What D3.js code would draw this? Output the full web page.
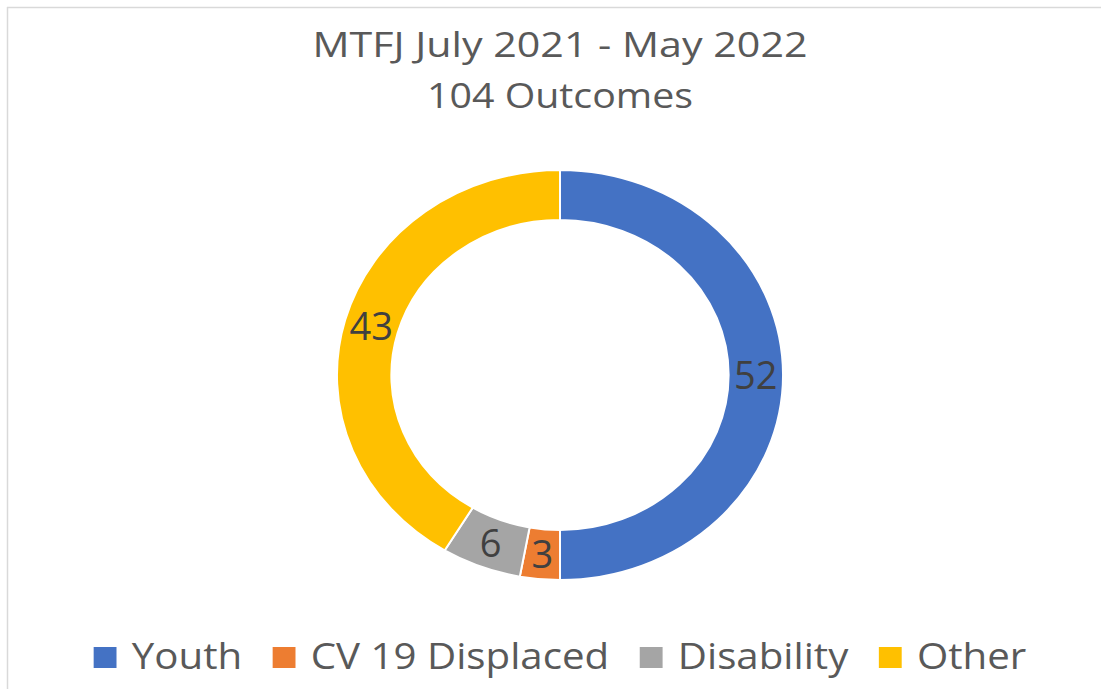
<!DOCTYPE html>
<html>
<head>
<meta charset="utf-8">
<script src="https://cdn.jsdelivr.net/npm/d3@7"></script>
<style>
  body { margin: 0; background: #fff; }
  text { font-family: "Open Sans", sans-serif; }
</style>
</head>
<body>
<div id="chart"></div>
<script>
// data
let categories = ["Youth", "CV 19 Displaced", "Disability", "Other"]
let outcomes = [52, 3, 6, 43]
let sliceColors = ["#4472C4", "#ED7D31", "#A5A5A5", "#FFC000"]
let titleLines = ["MTFJ July 2021 - May 2022", "104 Outcomes"]

let width = 1101, height = 689
let sx = 1.088   // the picture is a little wider than tall

let svg = d3.select("#chart").append("svg")
    .attr("width", width)
    .attr("height", height)

// frame (only top and left edge are in view)
svg.append("line").attr("x1", 7.5).attr("x2", 7.5).attr("y1", 7).attr("y2", height)
    .attr("stroke", "#d9d9d9").attr("stroke-width", 1.5)
svg.append("line").attr("x1", 7).attr("x2", width).attr("y1", 7.5).attr("y2", 7.5)
    .attr("stroke", "#d9d9d9").attr("stroke-width", 1.5)

// title
let titleLens = [495, 266]
svg.selectAll(".title").data(titleLines).enter().append("text")
    .attr("class", "title")
    .attr("x", 560)
    .attr("y", (d, i) => 57 + i * 51)
    .attr("text-anchor", "middle")
    .attr("font-size", 35)
    .attr("fill", "#595959")
    .attr("textLength", (d, i) => titleLens[i])
    .attr("lengthAdjust", "spacingAndGlyphs")
    .text(d => d)

// donut
let cx = 560, cy = 375
let outerR = 205, innerR = 155

let pie = d3.pie().sort(null).value(d => d)
let arc = d3.arc().innerRadius(innerR).outerRadius(outerR)
let labelArc = d3.arc().innerRadius((innerR + outerR) / 2).outerRadius((innerR + outerR) / 2)
let arcs = pie(outcomes)

let donut = svg.append("g")
    .attr("transform", `translate(${cx}, ${cy}) scale(${sx}, 1)`)

donut.selectAll("path").data(arcs).enter().append("path")
    .attr("d", arc)
    .attr("fill", (d, i) => sliceColors[i])
    .attr("stroke", "#fff")
    .attr("stroke-width", 2)
    .attr("vector-effect", "non-scaling-stroke")

// data labels
svg.selectAll(".lbl").data(arcs).enter().append("text")
    .attr("class", "lbl")
    .attr("x", d => cx + labelArc.centroid(d)[0] * sx)
    .attr("y", d => cy + labelArc.centroid(d)[1])
    .attr("dy", "0.36em")
    .attr("text-anchor", "middle")
    .attr("font-size", 38)
    .attr("fill", "#404040")
    .text(d => d.data)

// legend
let legend = svg.append("g")
let lx = 0
categories.forEach((c, i) => {
    legend.append("rect")
        .attr("x", lx).attr("y", -22)
        .attr("width", 21).attr("height", 21)
        .attr("fill", sliceColors[i])
    let t = legend.append("text")
        .attr("x", lx + 35)
        .attr("y", 0)
        .attr("font-size", 37)
        .attr("fill", "#595959")
        .text(c)
    lx += 35 + t.node().getComputedTextLength() + 28
})
let legendW = (lx - 28) * sx
legend.attr("transform", `translate(${560 - legendW / 2}, 669) scale(${sx}, 1)`)
</script>
</body>
</html>
